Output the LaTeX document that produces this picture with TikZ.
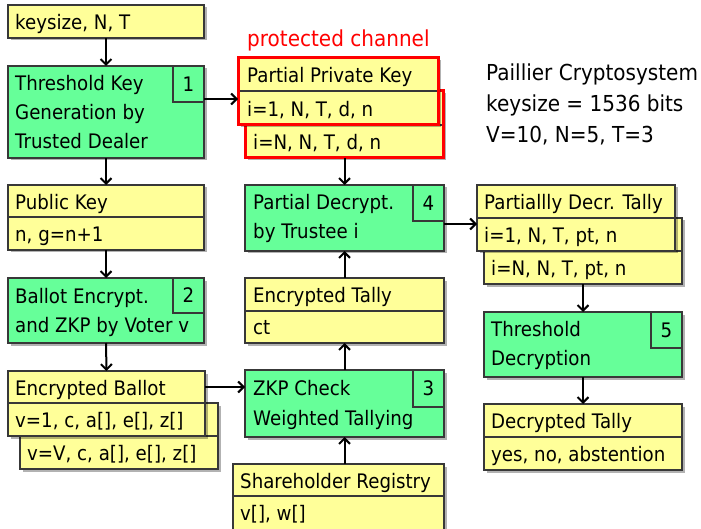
\documentclass[tikz,border=0pt]{standalone}
\usepackage{fontspec}
\setmainfont{DejaVu Sans}[FakeStretch=0.91]
\usetikzlibrary{arrows.meta,shadows}
\definecolor{ylw}{HTML}{FFFF99}
\definecolor{grn}{HTML}{66FF99}
\definecolor{bdr}{HTML}{383838}
\definecolor{redc}{HTML}{FF0000}
\tikzset{
 bx/.style={draw=bdr, line width=1.1pt, anchor=north west, inner sep=0pt, outer sep=0pt,
   drop shadow={shadow xshift=2.5pt, shadow yshift=-2.5pt, fill=black, opacity=0.3}},
 yb/.style={bx, fill=ylw},
 gb/.style={bx, fill=grn},
 nb/.style={draw=bdr, line width=1.1pt, anchor=north east, inner sep=0pt, outer sep=0pt,
   minimum width=31pt, minimum height=36pt, font=\fontsize{20}{24}\selectfont},
 lbl/.style={anchor=base west, inner sep=0pt, font=\fontsize{20}{24}\selectfont},
 big/.style={anchor=base west, inner sep=0pt, font=\fontsize{22}{26}\selectfont},
 arr/.style={-{Straight Barb[length=5.5pt,width=11pt,line width=2pt]}, line width=2pt, black},
 rbx/.style={draw=redc, line width=3pt}
}
\newcommand\mybox[7]{\node[#1, minimum width=#5pt, minimum height=#6pt] (#2) at (#3,#4) {};}
\begin{document}
\begin{tikzpicture}[x=1pt,y=-1pt]
\useasboundingbox (0,0) rectangle (701,529);
% column A
\mybox{yb}{k}{8}{5}{196}{33}{}
\node[lbl] (kt) at (15,29.5) {keysize, N, T};
\mybox{gb}{tkg}{8}{66}{196}{92}{}
\node[nb] (n1) at (tkg.north east) {1};
\node[lbl] (t1a) at (15,91) {Threshold Key};
\node[lbl] (t1b) at (15,120) {Generation by};
\node[lbl] (t1c) at (15,148.5) {Trusted Dealer};
\mybox{yb}{pkh}{8}{185}{196}{32}{}
\mybox{yb}{pkb}{8}{217}{196}{33}{}
\node[lbl] (pkt1) at (15,209.5) {Public Key};
\node[lbl] (pkt2) at (15,241.5) {n, g=n+1};
\mybox{gb}{be}{8}{278}{196}{65}{}
\node[nb, minimum height=35pt] (n2) at (be.north east) {2};
\node[lbl] (bet1) at (15,303) {Ballot Encrypt.};
\node[lbl] (bet2) at (15,332) {and ZKP by Voter v};
% encrypted ballot (back then front)
\mybox{yb}{ebBh}{20}{403}{198}{33}{}
\mybox{yb}{ebBb}{20}{436}{198}{33}{}
\node[lbl] (ebt3) at (27,460.5) {v=V, c, a[], e[], z[]};
\mybox{yb}{ebh}{8}{371}{197}{32}{}
\mybox{yb}{ebb}{8}{403}{197}{33}{}
\node[lbl] (ebt1) at (15,395.5) {Encrypted Ballot};
\node[lbl] (ebt2) at (15,427.5) {v=1, c, a[], e[], z[]};
% column B
\node[big, text=redc] (pc) at (247,47) {protected channel};
\mybox{yb}{ppkBh}{245}{91}{198}{34}{}
\mybox{yb}{ppkBb}{245}{125}{198}{33}{}
\draw[rbx] (ppkBh.north west) rectangle (ppkBb.south east);
\node[lbl] (ppt3) at (253,149.5) {i=N, N, T, d, n};
\mybox{yb}{ppkh}{238}{58}{200}{33}{}
\mybox{yb}{ppkb}{238}{91}{200}{34}{}
\draw[rbx] (ppkh.north west) rectangle (ppkb.south east);
\node[lbl] (ppt1) at (247,83) {Partial Private Key};
\node[lbl] (ppt2) at (247,116.5) {i=1, N, T, d, n};
\mybox{gb}{pd}{245}{185}{199}{66}{}
\node[nb] (n4) at (pd.north east) {4};
\node[lbl] (pdt1) at (253,210) {Partial Decrypt.};
\node[lbl] (pdt2) at (253,239) {by Trustee i};
\mybox{yb}{eth}{245}{278}{199}{33}{}
\mybox{yb}{etb}{245}{311}{199}{32}{}
\node[lbl] (ett1) at (253,302.5) {Encrypted Tally};
\node[lbl] (ett2) at (253,334) {ct};
\mybox{gb}{zkp}{245}{370}{199}{67}{}
\node[nb, minimum height=37pt] (n3) at (zkp.north east) {3};
\node[lbl] (zt1) at (253,395) {ZKP Check};
\node[lbl] (zt2) at (253,425) {Weighted Tallying};
\mybox{yb}{srh}{233}{464}{211}{32}{}
\mybox{yb}{srb}{233}{496}{211}{36}{}
\node[lbl] (st1) at (240,488.5) {Shareholder Registry};
\node[lbl] (st2) at (240,520.5) {v[], w[]};
% column C
\mybox{yb}{pdtBh}{484}{218}{198}{33}{}
\mybox{yb}{pdtBb}{484}{251}{198}{33}{}
\node[lbl] (dtt3) at (491,275.5) {i=N, N, T, pt, n};
\mybox{yb}{pdth}{477}{185}{198}{33}{}
\mybox{yb}{pdtb}{477}{218}{198}{33}{}
\node[lbl] (dtt1) at (484,209.5) {Partiallly Decr. Tally};
\node[lbl] (dtt2) at (484,242.5) {i=1, N, T, pt, n};
\mybox{gb}{td}{484}{312}{198}{65}{}
\node[nb] (n5) at (td.north east) {5};
\node[lbl] (tdt1) at (491,336) {Threshold};
\node[lbl] (tdt2) at (491,365) {Decryption};
\mybox{yb}{dth}{484}{404}{198}{33}{}
\mybox{yb}{dtb}{484}{437}{198}{33}{}
\node[lbl] (dct1) at (491,428.5) {Decrypted Tally};
\node[lbl] (dct2) at (491,461.5) {yes, no, abstention};
% info text
\node[big] (i1) at (486,81) {Paillier Cryptosystem};
\node[big] (i2) at (486,112) {keysize = 1536 bits};
\node[big] (i3) at (486,143) {V=10, N=5, T=3};
% connectors
\draw[arr] (k.south) -- (tkg.north);
\draw[arr] (tkg.south) -- (pkh.north);
\draw[arr] (pkb.south) -- (be.north);
\draw[arr] (be.south) -- (ebh.north);
\draw[arr] (ebh.east) -- (ebh.east -| zkp.west);
\coordinate (c1) at ([yshift=-33pt]tkg.north east);
\draw[arr] (c1) -- (c1 -| ppkb.west);
\draw[arr] (ppkBb.south -| pd.north) -- (pd.north);
\draw[arr] (eth.north -| pd.south) -- (pd.south);
\draw[arr] (zkp.north) -- (etb.south -| zkp.north);
\draw[arr] (srh.north -| zkp.south) -- (zkp.south);
\coordinate (c2) at ([yshift=-39pt]pd.north east);
\draw[arr] (c2) -- (c2 -| pdth.west);
\draw[arr] (pdtBb.south) -- (td.north);
\draw[arr] (td.south) -- (dth.north);
\end{tikzpicture}
\end{document}
